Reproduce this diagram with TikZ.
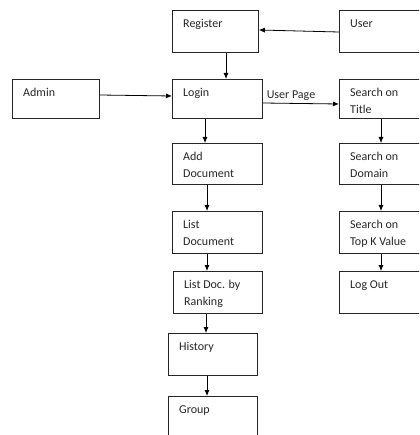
\documentclass[tikz,border=0pt]{standalone}
\usepackage{fontspec}
\setmainfont{Carlito}
\usetikzlibrary{arrows.meta}
\begin{document}
\begin{tikzpicture}[x=1pt,y=-1pt,
  every node/.style={font=\fontsize{12}{17}\selectfont, text=black!85},
  arr/.style={draw=black, line width=0.8pt, -{Latex[length=6pt,width=5pt]}},
  boxlabel/.style={anchor=base west, inner sep=0pt, align=left, xshift=11pt, yshift=-17.5pt},
]
\useasboundingbox (0,0) rectangle (419,435);
\clip (0,0) rectangle (419,435);
\newcommand\mybox[6]{% name, x1, y1, x2, y2, text
  \node[draw=black!85, line width=0.8pt, inner sep=0pt, anchor=north west,
        minimum width={#4-#2}, minimum height={#5-#3},
        label={[boxlabel]north west:{\parbox[t]{90pt}{#6}}}] (#1) at (#2,#3) {};
}
\mybox{register}{172}{10}{258}{52}{Register}
\mybox{user}{339}{10}{440}{52}{User}
\mybox{admin}{12}{79}{99}{118}{Admin}
\mybox{login}{172}{79}{262}{118}{Login}
\mybox{title}{339}{79}{440}{118}{Search on\\Title}
\mybox{adddoc}{172}{143}{262}{184}{Add\\Document}
\mybox{domain}{339}{143}{440}{184}{Search on\\Domain}
\mybox{listdoc}{172}{211}{262}{253}{List\\Document}
\mybox{topk}{339}{211}{440}{253}{Search on\\Top K Value}
\mybox{ranking}{173}{271}{262}{313}{List Doc. by\\Ranking}
\mybox{logout}{339}{271}{440}{313}{Log Out}
\mybox{history}{168}{333}{257}{375}{History}
\mybox{group}{168}{396}{257}{460}{Group}

\draw[arr] (user.west |- 0,32) -- (register.east |- 0,30);
\draw[arr] (register.south -| 226,0) -- (login.north -| 226,0);
\draw[arr] (admin.east |- 0,95) -- (login.west |- 0,96);
\draw[arr] (login.east |- 0,103) -- node[above, pos=0.37, inner sep=2.5pt] (userpage) {User Page} (title.west |- 0,104);
\draw[arr] (login.south -| 205,0) -- (adddoc.north -| 205,0);
\draw[arr] (title.south -| 381,0) -- (domain.north -| 381,0);
\draw[arr] (adddoc.south -| 207,0) -- (listdoc.north -| 207,0);
\draw[arr] (domain.south -| 381,0) -- (topk.north -| 381,0);
\draw[arr] (listdoc.south -| 207,0) -- (ranking.north -| 207,0);
\draw[arr] (topk.south -| 381,0) -- (logout.north -| 381,0);
\draw[arr] (ranking.south -| 206,0) -- (history.north -| 206,0);
\draw[arr] (history.south -| 207,0) -- (group.north -| 207,0);
\end{tikzpicture}
\end{document}
